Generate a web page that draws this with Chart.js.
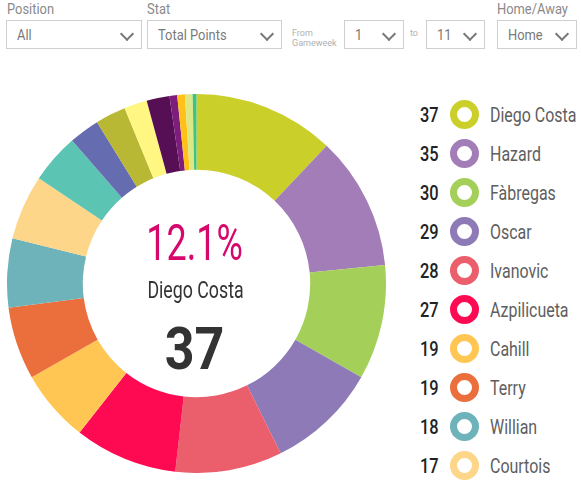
<!DOCTYPE html>
<html>
<head>
<meta charset="utf-8">
<script src="https://cdn.jsdelivr.net/npm/chart.js@4.4.1/dist/chart.umd.min.js"></script>
<style>
  body { margin: 0; width: 581px; height: 490px; background: #fff; position: relative; overflow: hidden;
         font-family: Roboto, "DejaVu Sans", sans-serif; }
  .cond { display: inline-block; transform: scaleX(0.86); transform-origin: left center; white-space: nowrap; }
  .lbl { position: absolute; top: 0; font-size: 15px; color: #8a8a8a; }
  .sel { position: absolute; top: 20px; height: 27px; border: 1px solid #cfcfcf; box-sizing: content-box;
         font-size: 15px; color: #7a7a7a; line-height: 28px; }
  .sel span { position: absolute; left: 10px; }
  .sel i { position: absolute; right: 9px; top: 8px; width: 8px; height: 8px;
           border-right: 2.5px solid #777; border-bottom: 2.5px solid #777; transform: rotate(45deg); }
  .tiny { position: absolute; font-size: 9px; color: #b0b0b0; line-height: 10px; }
  #wrap { position: absolute; left: 7px; top: 94px; width: 379px; height: 379px; }
  #legend { position: absolute; left: 412px; top: 96px; }
  .row { position: relative; height: 39px; width: 170px; white-space: nowrap; }
  .row .num { position: absolute; left: 8px; top: 7px; font-size: 21px; color: #222; font-weight: 500;
              transform: scaleX(0.78); transform-origin: left center; }
  .row .ring { position: absolute; left: 38px; top: 4px; width: 15px; height: 15px; border: 7.5px solid; border-radius: 50%; }
  .row .name { position: absolute; left: 78px; top: 7px; font-size: 21px; color: #5e5e5e;
               transform: scaleX(0.76); transform-origin: left center; }
</style>
</head>
<body>
<div class="lbl cond" style="left:7px">Position</div>
<div class="sel" style="left:6px;width:134px"><span class="cond">All</span><i></i></div>
<div class="lbl cond" style="left:147px">Stat</div>
<div class="sel" style="left:147px;width:133px"><span class="cond">Total Points</span><i></i></div>
<div class="tiny" style="left:292px;top:28px">From<br>Gameweek</div>
<div class="sel" style="left:344px;width:58px"><span class="cond">1</span><i></i></div>
<div class="tiny" style="left:410px;top:28px">to</div>
<div class="sel" style="left:426px;width:57px"><span class="cond">11</span><i></i></div>
<div class="lbl cond" style="left:497px">Home/Away</div>
<div class="sel" style="left:497px;width:78px"><span class="cond">Home</span><i></i></div>

<div id="wrap"><canvas id="pie"></canvas></div>
<div id="legend"></div>

<script>
const players = ["Diego Costa", "Hazard", "Fàbregas", "Oscar", "Ivanovic", "Azpilicueta", "Cahill", "Terry", "Willian", "Courtois",
  "Player 11", "Player 12", "Player 13", "Player 14", "Player 15", "Player 16", "Player 17", "Player 18", "Player 19"];
const points = [37, 35, 30, 29, 28, 27, 19, 19, 18, 17, 13, 8, 8, 6, 6, 2, 2, 2, 1];
const colours = ["#CBCF29", "#A37DB7", "#A4D05A", "#8E7AB6", "#EB5E6C", "#FD0A53", "#FFC653", "#EA6F3D", "#6DB3B9", "#FDD68A",
  "#5BC4B3", "#666CB0", "#B8B834", "#FFF782", "#560F54", "#7D1E7C", "#FFC117", "#DDE884", "#3EC47E"];
const legendCount = 10;

const total = points.reduce((a, b) => a + b, 0);
const selected = 0;

// narrow text: the original uses a condensed face, squeeze Roboto instead
function squeezed(ctx, text, x, y, sx) {
  ctx.save();
  ctx.translate(x, y);
  ctx.scale(sx, 1);
  ctx.fillText(text, 0, 0);
  ctx.restore();
}

// draws the selected player's share in the hole of the doughnut
const centreText = {
  id: "centreText",
  afterDraw(chart) {
    const ctx = chart.ctx;
    const arc = chart.getDatasetMeta(0).data[0];
    const x = arc.x, y = arc.y;
    ctx.save();
    ctx.textAlign = "center";
    ctx.textBaseline = "alphabetic";
    ctx.fillStyle = "#D6086B";
    ctx.font = "50px Roboto, sans-serif";
    squeezed(ctx, (points[selected] / total * 100).toFixed(1) + "%", x - 2, y - 24, 0.72);
    ctx.fillStyle = "#333";
    ctx.font = "24px Roboto, sans-serif";
    squeezed(ctx, players[selected], x - 1, y + 14, 0.74);
    ctx.font = "bold 59px Roboto, sans-serif";
    squeezed(ctx, points[selected], x - 2, y + 85, 0.88);
    ctx.restore();
  },
};

new Chart("pie", {
  type: "doughnut",
  data: {
    labels: players,
    datasets: [{ data: points, backgroundColor: colours, borderWidth: 0 }],
  },
  options: {
    responsive: true,
    maintainAspectRatio: false,
    animation: false,
    cutout: "60%",
    layout: { padding: 0 },
    plugins: { legend: { display: false }, tooltip: { enabled: false } },
  },
  plugins: [centreText],
});

const legend = document.getElementById("legend");
for (let i = 0; i < legendCount; i++) {
  const row = document.createElement("div");
  row.className = "row";
  row.innerHTML = `<span class="num">${points[i]}</span><span class="ring" style="border-color:${colours[i]}"></span><span class="name">${players[i]}</span>`;
  legend.appendChild(row);
}
</script>
</body>
</html>
